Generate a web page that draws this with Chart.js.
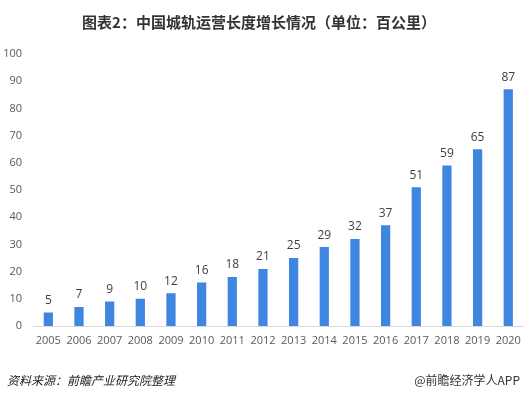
<!DOCTYPE html>
<html>
<head>
<meta charset="utf-8">
<script src="https://cdn.jsdelivr.net/npm/chart.js@4/dist/chart.umd.min.js"></script>
<style>
  html, body { margin: 0; padding: 0; background: #fff; }
  #wrap { width: 529px; height: 399px; position: relative; }
</style>
</head>
<body>
<div id="wrap"><canvas id="c" width="529" height="399"></canvas></div>
<script>
// chart data
const years = ['2005','2006','2007','2008','2009','2010','2011','2012','2013','2014','2015','2016','2017','2018','2019','2020'];
const lengths = [5, 7, 9, 10, 12, 16, 18, 21, 25, 29, 32, 37, 51, 59, 65, 87];
const yTicks = [0, 10, 20, 30, 40, 50, 60, 70, 80, 90, 100];

const titleText = '图表2：中国城轨运营长度增长情况（单位：百公里）';
const sourceText = '资料来源：前瞻产业研究院整理';
const brandText = '@前瞻经济学人APP';

const cjk = '"Noto Sans CJK SC", "Noto Sans", sans-serif';
const num = '"Open Sans", "Noto Sans", sans-serif';

// draws the value above each bar
const barLabels = {
    id: 'barLabels',
    afterDatasetsDraw(chart) {
        const ctx = chart.ctx;
        const meta = chart.getDatasetMeta(0);
        ctx.save();
        ctx.font = '12px ' + num;
        ctx.fillStyle = '#404040';
        ctx.textAlign = 'center';
        ctx.textBaseline = 'bottom';
        meta.data.forEach((bar, i) => {
            ctx.fillText(lengths[i], bar.x, bar.y - 6);
        });
        ctx.restore();
    }
};

// title and footer texts
const frameTexts = {
    id: 'frameTexts',
    afterDraw(chart) {
        const ctx = chart.ctx;
        ctx.save();
        ctx.fillStyle = '#333333';
        ctx.font = 'bold 15px ' + cjk;
        ctx.textAlign = 'center';
        ctx.textBaseline = 'middle';
        ctx.fillText(titleText, 259, 22);

        ctx.font = 'italic 12px ' + cjk;
        ctx.fillStyle = '#222222';
        ctx.textAlign = 'left';
        ctx.fillText(sourceText, 7, 380);

        ctx.font = '12px ' + cjk;
        ctx.fillStyle = '#333333';
        ctx.textAlign = 'right';
        ctx.fillText(brandText, 520, 380);
        ctx.restore();
    }
};

new Chart(document.getElementById('c').getContext('2d'), {
    type: 'bar',
    data: {
        labels: years,
        datasets: [{
            data: lengths,
            backgroundColor: '#3f86e1',
            barPercentage: 0.58,
            categoryPercentage: 0.52
        }]
    },
    options: {
        responsive: false,
        animation: false,
        layout: { padding: { top: 54, left: 0, right: 5, bottom: 43 } },
        plugins: {
            legend: { display: false },
            tooltip: { enabled: false }
        },
        scales: {
            x: {
                grid: { display: false, drawTicks: false },
                border: { color: '#d9d9d9', width: 1 },
                ticks: {
                    color: '#595959',
                    font: { family: num, size: 11 },
                    padding: 8,
                    maxRotation: 0,
                    autoSkip: false
                },
                afterFit(scale) { scale.height = 30; }
            },
            y: {
                min: 0,
                max: 100,
                grid: { display: false, drawTicks: false },
                border: { display: false },
                afterBuildTicks(scale) { scale.ticks = yTicks.map(v => ({ value: v })); },
                ticks: {
                    color: '#595959',
                    font: { family: num, size: 11 },
                    padding: 11
                },
                afterFit(scale) { scale.width = 33; }
            }
        }
    },
    plugins: [barLabels, frameTexts]
});
</script>
</body>
</html>
